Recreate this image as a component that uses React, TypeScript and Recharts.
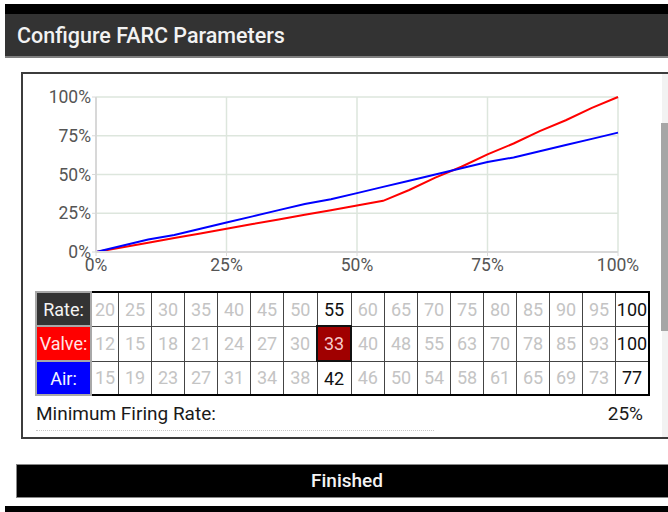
import { LineChart, Line, XAxis, YAxis, CartesianGrid } from 'recharts';

// firing rate points (%), the first three are not shown in the table
const rates = [0, 10, 15, 20, 25, 30, 35, 40, 45, 50, 55, 60, 65, 70, 75, 80, 85, 90, 95, 100];
const valve = [0, 6, 9, 12, 15, 18, 21, 24, 27, 30, 33, 40, 48, 55, 63, 70, 78, 85, 93, 100];
const air = [0, 8, 11, 15, 19, 23, 27, 31, 34, 38, 42, 46, 50, 54, 58, 61, 65, 69, 73, 77];
const axisTicks = [0, 25, 50, 75, 100];
const firstTableIndex = 3;
const selectedRate = 55;
const minFiringRate = 25;

const font = 'Roboto, "Noto Sans", sans-serif';

export default function App() {
  const data = rates.map((r, i) => ({ rate: r, valve: valve[i], air: air[i] }));
  const tableIdx = rates.map((_, i) => i).filter((i) => i >= firstTableIndex);
  const pct = (v: number) => `${v}%`;

  const cell = (i: number, value: number, row: string) => {
    const isSel = rates[i] === selectedRate;
    const isLast = i === rates.length - 1;
    const highlight = isSel && row === 'valve';
    return (
      <td
        key={i}
        style={{
          width: i === firstTableIndex ? 26 : 32,
          padding: 0,
          textAlign: 'center',
          border: highlight ? '2px solid #111' : '1px solid #444',
          background: highlight ? '#a00000' : '#fff',
          color: highlight ? '#f6caca' : isSel || isLast ? '#111' : '#c4c4c4',
          fontSize: 18,
          whiteSpace: 'nowrap',
          overflow: 'visible',
        }}
      >
        {value}
      </td>
    );
  };

  const label = (text: string, bg: string, color: string) => (
    <td
      style={{
        width: 53,
        padding: 0,
        textAlign: 'center',
        background: bg,
        color,
        border: '2px solid #a8a8a8',
        fontSize: 18,
      }}
    >
      {text}
    </td>
  );

  return (
    <div style={{ position: 'absolute', left: 0, top: 0, width: 668, height: 512, background: '#fff', fontFamily: font, overflow: 'hidden' }}>
      {/* title bar */}
      <div style={{ position: 'absolute', left: 5, top: 4, width: 663, height: 10, background: '#000' }} />
      <div style={{ position: 'absolute', left: 5, top: 14, width: 663, height: 42, background: '#333', borderBottom: '2px solid #808080' }}>
        <div style={{ position: 'absolute', left: 12, top: 9, color: '#f2f2f2', fontSize: 21.5, fontWeight: 500 }}>
          Configure FARC Parameters
        </div>
      </div>

      {/* panel */}
      <div style={{ position: 'absolute', left: 21, top: 72, width: 660, height: 363, border: '2px solid #3c3c3c', background: '#fff' }} />
      <div style={{ position: 'absolute', left: 662, top: 74, width: 6, height: 363, background: '#f2f2f2' }} />
      <div style={{ position: 'absolute', left: 661, top: 123, width: 7, height: 208, background: '#a6a6a6' }} />

      <div style={{ position: 'absolute', left: 22, top: 75 }}>
        <LineChart width={628} height={210} data={data} margin={{ top: 22, right: 32, left: 0, bottom: 3 }}>
          <CartesianGrid stroke="#dde6dd" strokeWidth={1.5} />
          <XAxis
            dataKey="rate"
            type="number"
            domain={[0, 100]}
            ticks={axisTicks}
            tickFormatter={pct}
            height={30}
            tickSize={4}
            tickMargin={3}
            axisLine={{ stroke: '#d8d8d8', strokeWidth: 2 }}
            tickLine={{ stroke: '#d8d8d8' }}
            tick={{ fill: '#555', fontSize: 17.5, fontFamily: font }}
          />
          <YAxis
            type="number"
            domain={[0, 100]}
            ticks={axisTicks}
            tickFormatter={pct}
            width={74}
            tickSize={4}
            tickMargin={1}
            axisLine={{ stroke: '#d8d8d8', strokeWidth: 2 }}
            tickLine={{ stroke: '#d8d8d8' }}
            tick={{ fill: '#555', fontSize: 17.5, fontFamily: font }}
          />
          <Line type="linear" dataKey="valve" stroke="#ff0000" strokeWidth={2} dot={false} isAnimationActive={false} />
          <Line type="linear" dataKey="air" stroke="#0000ff" strokeWidth={2} dot={false} isAnimationActive={false} />
        </LineChart>
      </div>

      {/* value table */}
      <table
        style={{
          position: 'absolute',
          left: 35,
          top: 291,
          borderCollapse: 'collapse',
          border: '2px solid #000',
          tableLayout: 'fixed',
          fontFamily: font,
        }}
      >
        <tbody>
          <tr style={{ height: 34 }}>
            {label('Rate:', '#333', '#f4f4f4')}
            {tableIdx.map((i) => cell(i, rates[i], 'rate'))}
          </tr>
          <tr style={{ height: 35 }}>
            {label('Valve:', '#ff0000', '#ffe6e6')}
            {tableIdx.map((i) => cell(i, valve[i], 'valve'))}
          </tr>
          <tr style={{ height: 34 }}>
            {label('Air:', '#0000ff', '#f4f4ff')}
            {tableIdx.map((i) => cell(i, air[i], 'air'))}
          </tr>
        </tbody>
      </table>

      <div style={{ position: 'absolute', left: 36, top: 402, fontSize: 19, color: '#1a1a1a' }}>Minimum Firing Rate:</div>
      <div style={{ position: 'absolute', right: 25, top: 402, fontSize: 19, color: '#1a1a1a' }}>{pct(minFiringRate)}</div>
      <div style={{ position: 'absolute', left: 36, top: 430, width: 398, borderTop: '1px dotted #c8c8c8' }} />

      {/* footer button */}
      <div
        style={{
          position: 'absolute',
          left: 16,
          top: 464,
          width: 660,
          height: 32,
          background: '#000',
          border: '1px solid #888',
          color: '#f4f4f4',
        }}
      >
        <div style={{ position: 'absolute', left: 294, top: 4, fontSize: 19, fontWeight: 500 }}>Finished</div>
      </div>
      <div style={{ position: 'absolute', left: 5, top: 506, width: 663, height: 6, background: '#000' }} />
    </div>
  );
}
